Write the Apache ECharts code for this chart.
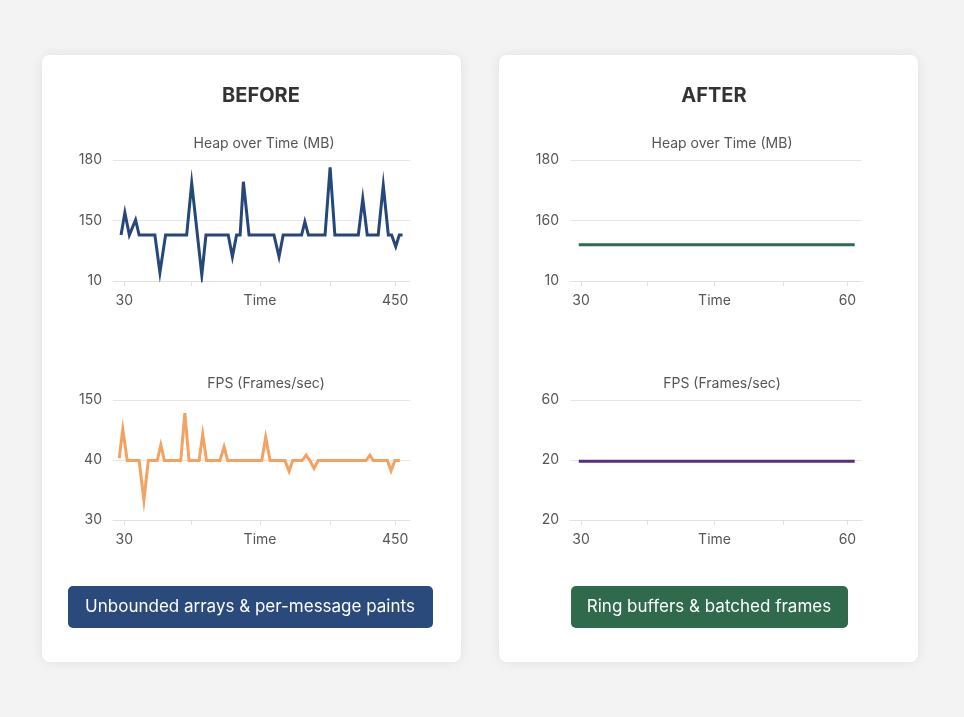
<!DOCTYPE html>
<html><head><meta charset="utf-8">
<script src="https://cdn.jsdelivr.net/npm/echarts@6/dist/echarts.min.js"></script>
<style>html,body{margin:0;background:#f3f3f3}#c{width:964px;height:717px}</style>
</head><body><div id="c"></div>
<script>
// positions along the time axis (0..100) and vertical positions on tick scale (0..2)
const heapBefore = [[2.7,0.76],[4.0,1.13],[5.5,0.76],[7.6,1.01],[8.8,0.76],[14.1,0.76],[15.8,0.14],[17.7,0.76],[24.8,0.76],[26.5,1.62],[29.9,0.10],[31.3,0.76],[38.8,0.76],[40.2,0.40],[41.6,0.76],[42.8,0.76],[43.9,1.64],[45.8,0.76],[54.2,0.76],[55.9,0.40],[57.3,0.76],[63.5,0.76],[64.6,0.98],[65.8,0.76],[71.4,0.76],[73.1,1.88],[74.7,0.76],[82.6,0.76],[84.1,1.36],[85.6,0.76],[89.3,0.76],[91.0,1.58],[92.7,0.76],[93.8,0.76],[95.2,0.57],[96.4,0.76],[97.5,0.76]];
const fpsBefore = [[2.1,1.03],[3.3,1.51],[4.8,0.99],[8.8,0.99],[10.4,0.33],[11.9,0.99],[14.9,0.99],[16.1,1.25],[17.3,0.99],[22.8,0.99],[24.2,1.78],[25.6,0.99],[29.0,0.99],[30.2,1.43],[31.5,0.99],[36.0,0.99],[37.4,1.22],[38.6,0.99],[50.1,0.99],[51.4,1.38],[52.9,0.99],[57.9,0.99],[59.3,0.81],[60.5,0.99],[63.7,0.99],[65.0,1.08],[66.3,0.99],[67.7,0.86],[69.1,0.99],[85.2,0.99],[86.5,1.08],[87.6,0.99],[92.4,0.99],[93.6,0.82],[94.9,0.99],[96.6,0.99]];
const heapAfter = [[3.0,0.6],[97.5,0.6]];
const fpsAfter = [[3.0,0.98],[97.5,0.98]];
const yLabHeapBefore = ['10','150','180'];
const yLabFpsBefore = ['30','40','150'];
const yLabHeapAfter = ['10','160','180'];
const yLabFpsAfter = ['20','20','60'];
const xLabBefore = ['30','Time','450'];
const xLabAfter = ['30','Time','60'];
const xLabPos = [3.8,49.5,95.0];
const xTickPos = [3.8,26.5,49.5,73.1,95.0];

const chart = echarts.init(document.getElementById('c'));
const grids = [
  {left:113,width:297,top:160,height:121},
  {left:113,width:297,top:400,height:120},
  {left:570,width:292,top:160,height:121},
  {left:570,width:292,top:400,height:120}
];
const xLabs=[xLabBefore,xLabBefore,xLabAfter,xLabAfter];
const yLabs=[yLabHeapBefore,yLabFpsBefore,yLabHeapAfter,yLabFpsAfter];
const datas=[heapBefore,fpsBefore,heapAfter,fpsAfter];
const colors=['#27477a','#f4a261','#2f6b4f','#5b2d7a'];
const xAxis=xLabs.map((l,i)=>({type:'value',gridIndex:i,min:0,max:100,
  axisLine:{show:true,lineStyle:{color:'#e2e2e2'}},splitLine:{show:false},
  axisTick:{show:true,customValues:xTickPos,length:5,lineStyle:{color:'#e2e2e2'}},
  axisLabel:{customValues:xLabPos,margin:13,color:'#555',fontSize:14,fontFamily:'Inter',
    formatter:v=>l[xLabPos.indexOf(v)]}}));
const yAxis=yLabs.map((l,i)=>({type:'value',gridIndex:i,min:0,max:2,interval:1,
  axisLine:{show:false},axisTick:{show:false},
  splitLine:{lineStyle:{color:'#e6e6e6'}},
  axisLabel:{margin:11,color:'#555',fontSize:14,fontFamily:'Inter',formatter:v=>l[Math.round(v)]}}));
const series=datas.map((d,i)=>({type:'line',xAxisIndex:i,yAxisIndex:i,data:d,showSymbol:false,
  lineStyle:{color:colors[i],width:3,join:'miter'},animation:false}));
const sub={fontSize:14,fontWeight:'normal',color:'#555',fontFamily:'Inter'};
const head={fontSize:20,fontWeight:'bold',color:'#333',fontFamily:'Inter'};
chart.setOption({
  animation:false,
  grid:grids,xAxis,yAxis,series,
  title:[
    {text:'BEFORE',left:256,top:81,textAlign:'center',textStyle:head},
    {text:'AFTER',left:709,top:81,textAlign:'center',textStyle:head},
    {text:'Heap over Time (MB)',left:259,top:132,textAlign:'center',textStyle:sub},
    {text:'FPS (Frames/sec)',left:261,top:372,textAlign:'center',textStyle:sub},
    {text:'Heap over Time (MB)',left:717,top:132,textAlign:'center',textStyle:sub},
    {text:'FPS (Frames/sec)',left:717,top:372,textAlign:'center',textStyle:sub}
  ],
  graphic:[
    {type:'rect',z:-10,shape:{x:42,y:55,width:419,height:607,r:8},style:{fill:'#fff',shadowBlur:12,shadowColor:'rgba(0,0,0,0.08)'}},
    {type:'rect',z:-10,shape:{x:499,y:55,width:419,height:607,r:8},style:{fill:'#fff',shadowBlur:12,shadowColor:'rgba(0,0,0,0.08)'}},
    {type:'rect',shape:{x:68,y:586,width:365,height:42,r:5},style:{fill:'#2b4a7c'}},
    {type:'text',x:250,y:607,style:{text:'Unbounded arrays & per-message paints',fill:'#fff',fontSize:17,fontFamily:'Inter',align:'center',verticalAlign:'middle'}},
    {type:'rect',shape:{x:571,y:586,width:277,height:42,r:5},style:{fill:'#2e6a4b'}},
    {type:'text',x:709,y:607,style:{text:'Ring buffers & batched frames',fill:'#fff',fontSize:17,fontFamily:'Inter',align:'center',verticalAlign:'middle'}}
  ]
});
</script></body></html>
